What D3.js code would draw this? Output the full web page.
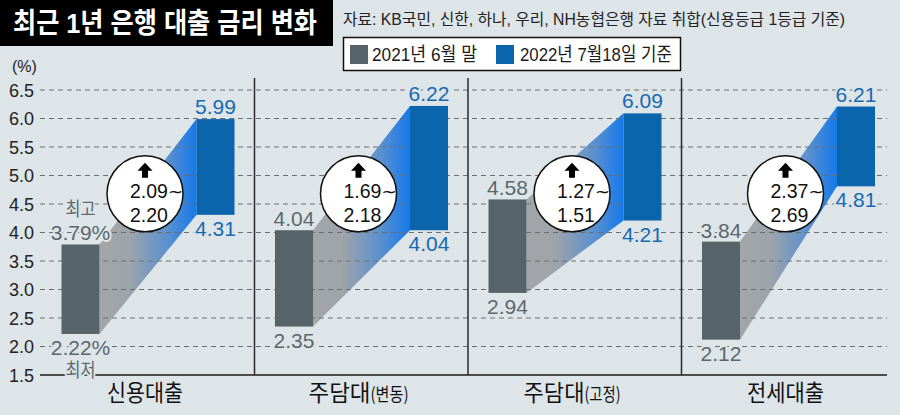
<!DOCTYPE html>
<html>
<head>
<meta charset="utf-8">
<script src="https://cdn.jsdelivr.net/npm/d3@7"></script>
<style>
  html, body { margin: 0; padding: 0; background: #dee5e9; }
  svg { display: block; font-family: "Liberation Sans", Arial, "Noto Sans CJK KR", sans-serif; }
</style>
</head>
<body>
<svg id="chart" width="900" height="415"></svg>
<script>
// ---- data ----
const categories = ["신용대출", "주담대(변동)", "주담대(고정)", "전세대출"];
const series = ["2021년 6월 말", "2022년 7월18일 기준"];
const low2021  = [2.22, 2.35, 2.94, 2.12];
const high2021 = [3.79, 4.04, 4.58, 3.84];
const low2022  = [4.31, 4.04, 4.21, 4.81];
const high2022 = [5.99, 6.22, 6.09, 6.21];
const riseMin  = [2.09, 1.69, 1.27, 2.37];
const riseMax  = [2.20, 2.18, 1.51, 2.69];
const yTicks   = [1.5, 2.0, 2.5, 3.0, 3.5, 4.0, 4.5, 5.0, 5.5, 6.0, 6.5];
const titleText = "최근 1년 은행 대출 금리 변화";
const sourceText = "자료: KB국민, 신한, 하나, 우리, NH농협은행 자료 취합(신용등급 1등급 기준)";

// ---- styles ----
const BG = "#dee5e9";
const GRAY = "#56646a";
const BLUE = "#0b65ad";
const GRAY_TXT = "#5c686d";
const BLUE_TXT = "#1769b2";

const svg = d3.select("#chart");
svg.append("rect").attr("width", 900).attr("height", 415).attr("fill", BG);

const y = d3.scaleLinear().domain([1.5, 6.5]).range([375, 90]);
const xPanel = d3.scaleBand().domain(categories).range([41, 895]);
const xInner = d3.scaleBand().domain(series).range([20.5, 193.5]).paddingInner(0.7185).paddingOuter(0);
const bw = xInner.bandwidth();
const fmt = d3.format(".2f");
const fmtTick = d3.format(".1f");

const defs = svg.append("defs");
const grad = defs.append("linearGradient").attr("id", "conn").attr("x1", "0").attr("x2", "1").attr("y1", "0").attr("y2", "0");
grad.append("stop").attr("offset", "0").attr("stop-color", "#a3a6a8");
grad.append("stop").attr("offset", "0.3").attr("stop-color", "#9ea4a9");
grad.append("stop").attr("offset", "0.7").attr("stop-color", "#5b90cf");
grad.append("stop").attr("offset", "1").attr("stop-color", "#1479eb");

// title
svg.append("rect").attr("x", 0).attr("y", 0).attr("width", 333).attr("height", 46).attr("fill", "#000");
svg.append("text").attr("x", 13).attr("y", 33).attr("fill", "#fff")
  .attr("font-family", "'Liberation Sans', 'Noto Sans CJK KR', sans-serif").attr("font-weight", "bold")
  .attr("font-size", 28).attr("textLength", 304).attr("lengthAdjust", "spacingAndGlyphs")
  .text(titleText);

// source
svg.append("text").attr("x", 343).attr("y", 25).attr("fill", "#222")
  .attr("font-size", 16).attr("textLength", 502).attr("lengthAdjust", "spacingAndGlyphs")
  .text(sourceText);

// legend
const lg = svg.append("g");
lg.append("rect").attr("x", 343.5).attr("y", 37.5).attr("width", 337).attr("height", 33)
  .attr("fill", "#fff").attr("stroke", "#111").attr("stroke-width", 1.5);
const legendItems = [
  {name: series[0], color: GRAY, sx: 350, tx: 372, tl: 105},
  {name: series[1], color: BLUE, sx: 496, tx: 520, tl: 152}
];
legendItems.forEach(d => {
  lg.append("rect").attr("x", d.sx).attr("y", 45).attr("width", 18).attr("height", 19).attr("fill", d.color);
  lg.append("text").attr("x", d.tx).attr("y", 61).attr("font-size", 19).attr("fill", "#1a1a1a")
    .attr("textLength", d.tl).attr("lengthAdjust", "spacingAndGlyphs").text(d.name);
});

// (%) unit
svg.append("text").attr("x", 12).attr("y", 72).attr("font-size", 16).attr("fill", "#222").text("(%)");

// connectors (under gridlines)
const panels = categories.map((c, i) => ({
  cat: c, i, lo1: low2021[i], hi1: high2021[i], lo2: low2022[i], hi2: high2022[i],
  rmin: riseMin[i], rmax: riseMax[i], x0: xPanel(c)
}));

svg.append("g").selectAll("polygon").data(panels).join("polygon")
  .attr("points", d => {
    const xa = d.x0 + xInner(series[0]) + bw;
    const xb = d.x0 + xInner(series[1]);
    return [[xa, y(d.hi1)], [xb, y(d.hi2)], [xb, y(d.lo2)], [xa, y(d.lo1)]].map(p => p.join(",")).join(" ");
  })
  .attr("fill", "url(#conn)");

// gridlines + tick labels
const grid = svg.append("g");
grid.selectAll("line").data(yTicks).join("line")
  .attr("x1", 40).attr("x2", 887)
  .attr("y1", d => y(d)).attr("y2", d => y(d))
  .attr("stroke", d => d === 1.5 ? "#1a1a1a" : "#6e6e6e")
  .attr("stroke-width", d => d === 1.5 ? 1.5 : 1)
  .attr("stroke-dasharray", d => d === 1.5 ? null : "5,4");
grid.selectAll("text").data(yTicks).join("text")
  .attr("x", 34).attr("y", d => y(d) + 6.5).attr("text-anchor", "end")
  .attr("font-size", 18).attr("fill", "#222").text(d => fmtTick(d));

// dividers
svg.append("g").selectAll("line").data(categories.slice(1)).join("line")
  .attr("x1", d => xPanel(d)).attr("x2", d => xPanel(d))
  .attr("y1", 78).attr("y2", 375)
  .attr("stroke", "#2a2a2a").attr("stroke-width", 1.5);

// bars
const bars = svg.append("g");
bars.selectAll("rect.b1").data(panels).join("rect").attr("class", "b1")
  .attr("x", d => d.x0 + xInner(series[0])).attr("width", bw)
  .attr("y", d => y(d.hi1)).attr("height", d => y(d.lo1) - y(d.hi1)).attr("fill", GRAY);
bars.selectAll("rect.b2").data(panels).join("rect").attr("class", "b2")
  .attr("x", d => d.x0 + xInner(series[1])).attr("width", bw)
  .attr("y", d => y(d.hi2)).attr("height", d => y(d.lo2) - y(d.hi2)).attr("fill", BLUE);

// value labels with halo
function halo(sel) {
  return sel.attr("stroke", BG).attr("stroke-width", 4).attr("paint-order", "stroke").attr("stroke-linejoin", "round");
}
const labels = svg.append("g").attr("font-size", 21).attr("text-anchor", "middle");
panels.forEach(d => {
  const cx1 = d.x0 + xInner(series[0]) + bw / 2;
  const cx2 = d.x0 + xInner(series[1]) + bw / 2;
  const suf = d.i === 0 ? "%" : "";
  halo(labels.append("text").attr("x", cx1).attr("y", y(d.hi1) - 4).attr("fill", GRAY_TXT).text(fmt(d.hi1) + suf));
  halo(labels.append("text").attr("x", cx1).attr("y", y(d.lo1) + 21).attr("fill", GRAY_TXT).text(fmt(d.lo1) + suf));
  halo(labels.append("text").attr("x", cx2).attr("y", y(d.hi2) - 5).attr("fill", BLUE_TXT).text(fmt(d.hi2)));
  halo(labels.append("text").attr("x", cx2).attr("y", y(d.lo2) + 21).attr("fill", BLUE_TXT).text(fmt(d.lo2)));
  if (d.i === 0) {
    halo(labels.append("text").attr("x", cx1).attr("y", y(d.hi1) - 28).attr("fill", GRAY_TXT)
      .attr("font-size", 19).attr("textLength", 30).attr("lengthAdjust", "spacingAndGlyphs").text("최고"));
    halo(labels.append("text").attr("x", cx1).attr("y", y(d.lo1) + 43).attr("fill", GRAY_TXT)
      .attr("font-size", 19).attr("textLength", 30).attr("lengthAdjust", "spacingAndGlyphs").text("최저"));
  }
});

// circles with rise range
const circ = svg.append("g");
const cyVal = 4.68;
panels.forEach(d => {
  const cx = d.x0 + 104;
  const cy = y(cyVal);
  const g = circ.append("g").attr("transform", `translate(${cx},${cy})`);
  g.append("circle").attr("r", 38).attr("fill", "#fff").attr("stroke", "#111").attr("stroke-width", 1.5);
  g.append("path").attr("d", "M0,-31 L7.5,-23 L3,-23 L3,-16 L-3,-16 L-3,-23 L-7.5,-23 Z").attr("fill", "#000");
  const t1 = g.append("text").attr("x", -15).attr("y", 4).attr("font-size", 19.5).attr("fill", "#111");
  t1.append("tspan").text(fmt(d.rmin));
  t1.append("tspan").attr("font-family", "'DejaVu Sans', sans-serif").attr("font-size", 18).text("~");
  g.append("text").attr("x", -15).attr("y", 28).attr("font-size", 19.5).attr("fill", "#111").text(fmt(d.rmax));
});

// category labels
const catMain = [76, 62, 61, 77];
const catSub = [0, 38, 36, 0];
panels.forEach(d => {
  const parts = d.cat.split("(");
  const cx = d.x0 + 104;
  const total = catMain[d.i] + catSub[d.i];
  const t = svg.append("text").attr("x", cx - total / 2).attr("y", 401)
    .attr("font-family", "'Noto Sans CJK KR', sans-serif").attr("fill", "#111");
  t.append("tspan").attr("font-size", 23).attr("textLength", catMain[d.i]).attr("lengthAdjust", "spacingAndGlyphs").text(parts[0]);
  if (parts.length > 1) {
    t.append("tspan").attr("font-size", 18).attr("textLength", catSub[d.i]).attr("lengthAdjust", "spacingAndGlyphs").text("(" + parts[1]);
  }
});
</script>
</body>
</html>
